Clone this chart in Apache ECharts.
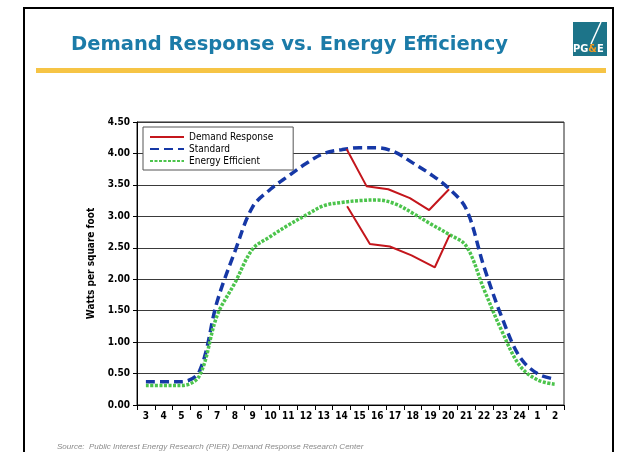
<!DOCTYPE html>
<html>
<head>
<meta charset="utf-8">
<script src="https://cdn.jsdelivr.net/npm/echarts@6/dist/echarts.min.js"></script>
<style>
  html, body { margin: 0; padding: 0; background: #fff; }
</style>
</head>
<body>
<div id="container" style="width: 628px; height: 452px;"></div>
<script>
var hours = ['3','4','5','6','7','8','9','10','11','12','13','14','15','16','17','18','19','20','21','22','23','24','1','2'];
var standard = [0.37,0.37,0.37,0.53,1.64,2.44,3.15,3.43,3.64,3.84,4.0,4.06,4.09,4.09,4.02,3.85,3.67,3.45,3.12,2.2,1.4,0.77,0.5,0.41];
var efficient = [0.31,0.31,0.31,0.46,1.42,1.94,2.48,2.68,2.86,3.02,3.17,3.22,3.25,3.26,3.2,3.05,2.88,2.72,2.53,1.84,1.18,0.63,0.40,0.33];
// demand response lines sit a little off the hour slots, so they use slot positions (0..24)
var drUpperPos = [11.78,12.90,14.12,15.34,16.42,17.54];
var drUpper = [4.07,3.48,3.43,3.29,3.10,3.43];
var drLowerPos = [11.81,13.09,14.21,15.43,16.74,17.58];
var drLower = [3.16,2.56,2.52,2.38,2.19,2.71];
var yTicks = [0, 4.5, 0.5];

var narrow = "'Liberation Sans Narrow', 'DejaVu Sans Condensed', 'Arial Narrow', sans-serif";

function pairs(xs, ys) {
  return xs.map(function (x, i) { return [x, ys[i]]; });
}

var chart = echarts.init(document.getElementById('container'));
var option = {
  backgroundColor: '#fff',
  animation: false,
  title: {
    text: 'Demand Response vs. Energy Efficiency',
    left: 66,
    top: 30,
    textStyle: {
      fontFamily: 'DejaVu Sans',
      fontWeight: 'bold',
      fontSize: 19.5,
      color: '#1b7ba8'
    }
  },
  graphic: [
    { type: 'rect', shape: { x: 24, y: 8, width: 589, height: 470 }, style: { fill: 'none', stroke: '#000', lineWidth: 2 } },
    { type: 'rect', shape: { x: 36, y: 68, width: 570, height: 5 }, style: { fill: '#f6c445' } },
    { type: 'rect', shape: { x: 573, y: 22, width: 34, height: 34 }, style: { fill: '#1d7489' } },
    { type: 'line', shape: { x1: 601, y1: 22, x2: 591, y2: 44 }, style: { stroke: '#fff', lineWidth: 1.5 } },
    {
      type: 'text', left: 573, top: 44,
      style: {
        text: '{w|PG}{o|&}{w|E}',
        rich: {
          w: { fill: '#fff', fontWeight: 'bold', fontSize: 11, fontFamily: narrow },
          o: { fill: '#f39a1e', fontWeight: 'bold', fontSize: 11, fontFamily: narrow }
        }
      }
    },
    {
      type: 'text', left: 57, top: 443,
      style: {
        text: 'Source:  Public Interest Energy Research (PIER) Demand Response Research Center',
        fill: '#8a8a8a', fontStyle: 'italic', fontSize: 8, fontFamily: 'Liberation Sans'
      }
    }
  ],
  legend: {
    orient: 'vertical',
    left: 143,
    top: 127,
    width: 139,
    data: ['Demand Response', 'Standard', 'Energy Efficient'],
    backgroundColor: '#fff',
    borderColor: '#555',
    borderWidth: 1,
    borderRadius: 0,
    padding: [5, 20, 4, 6],
    itemGap: 2,
    itemWidth: 34,
    itemHeight: 10,
    itemStyle: { opacity: 0 },
    textStyle: { fontFamily: narrow, fontSize: 10, color: '#000' }
  },
  grid: {
    left: 137,
    right: 64,
    top: 122,
    bottom: 47,
    show: true,
    borderColor: '#222',
    borderWidth: 1
  },
  xAxis: [
    {
      type: 'category',
      data: hours,
      boundaryGap: true,
      axisLine: { lineStyle: { color: '#000' } },
      axisTick: { show: true, length: 5, lineStyle: { color: '#000' } },
      axisLabel: { color: '#000', fontFamily: narrow, fontWeight: 'bold', fontSize: 10, margin: 6, interval: 0 },
      splitLine: { show: false }
    },
    {
      type: 'value',
      min: 0,
      max: 24,
      show: false,
      position: 'bottom'
    }
  ],
  yAxis: {
    type: 'value',
    min: yTicks[0],
    max: yTicks[1],
    interval: yTicks[2],
    name: 'Watts per square foot',
    nameLocation: 'middle',
    nameRotate: 90,
    nameGap: 36,
    nameTextStyle: { fontFamily: narrow, fontWeight: 'bold', fontSize: 10, color: '#000' },
    axisLine: { show: true, lineStyle: { color: '#000' } },
    axisTick: { show: true, length: 4, lineStyle: { color: '#000' } },
    axisLabel: {
      color: '#000', fontFamily: narrow, fontWeight: 'bold', fontSize: 10, margin: 7,
      formatter: function (v) { return v.toFixed(2); }
    },
    splitLine: { lineStyle: { color: '#3a3a3a', width: 1 } }
  },
  series: [
    {
      name: 'Standard',
      type: 'line',
      data: standard,
      smooth: 0.35,
      symbol: 'none',
      lineStyle: { color: '#1638a6', width: 3.5, type: [9, 5] },
      itemStyle: { color: '#1638a6' }
    },
    {
      name: 'Energy Efficient',
      type: 'line',
      data: efficient,
      smooth: 0.35,
      symbol: 'none',
      lineStyle: { color: '#4cc44c', width: 3.5, type: [3, 1.5] },
      itemStyle: { color: '#4cc44c' }
    },
    {
      name: 'Demand Response',
      type: 'line',
      xAxisIndex: 1,
      data: pairs(drUpperPos, drUpper),
      symbol: 'none',
      lineStyle: { color: '#c4161c', width: 2 },
      itemStyle: { color: '#c4161c' }
    },
    {
      name: 'Demand Response',
      type: 'line',
      xAxisIndex: 1,
      data: pairs(drLowerPos, drLower),
      symbol: 'none',
      lineStyle: { color: '#c4161c', width: 2 },
      itemStyle: { color: '#c4161c' }
    }
  ]
};
chart.setOption(option);
</script>
</body>
</html>
